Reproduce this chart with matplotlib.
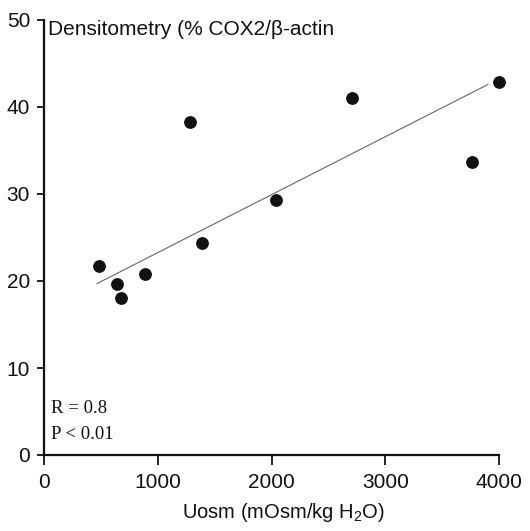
import matplotlib
matplotlib.use("Agg")
import matplotlib.pyplot as plt
import numpy as np

uosm = [484, 642, 677, 888, 1283, 1389, 2040, 2708, 3763, 4000]
cox2 = [21.7, 19.7, 18.0, 20.8, 38.3, 24.4, 29.3, 41.0, 33.7, 42.9]
fit_x = [466, 3903]
slope = 0.00666
intercept = 16.6
xticks = [0, 1000, 2000, 3000, 4000]
yticks = [0, 10, 20, 30, 40, 50]

plt.rcParams['font.family'] = ['Liberation Sans', 'DejaVu Sans']
plt.rcParams['mathtext.fontset'] = 'custom'
plt.rcParams['mathtext.rm'] = 'Liberation Sans'
plt.rcParams['mathtext.it'] = 'Liberation Sans'

fig = plt.figure(figsize=(5.30, 5.31), dpi=100)
ax = fig.add_axes([44/530, (531-455)/531, 455/530, 435/531])

ax.scatter(uosm, cox2, s=85, color='#111111', zorder=3, linewidths=0, clip_on=False)
fx = np.array(fit_x, dtype=float)
ax.plot(fx, slope*fx + intercept, color='#666666', lw=0.8, zorder=2)

ax.set_xlim(0, 4000)
ax.set_ylim(0, 50)
ax.set_xticks(xticks)
ax.set_yticks(yticks)
ax.tick_params(axis='both', labelsize=15, width=1.3, length=5, color='#111111', labelcolor='#111111')
ax.tick_params(axis='x', length=7, pad=6)
ax.tick_params(axis='y', pad=5)
for s in ['top', 'right']:
    ax.spines[s].set_visible(False)
for s in ['left', 'bottom']:
    ax.spines[s].set_linewidth(1.6)
    ax.spines[s].set_color('#111111')

ax.set_xlabel('Uosm (mOsm/kg H$_2$O)', fontsize=14.5, color='#111111')
ax.xaxis.set_label_coords(0.525, -0.105)

ax.text(0.008, 1.0, 'Densitometry (% COX2/β-actin', transform=ax.transAxes,
        fontsize=15, va='top', ha='left', color='#111111')

ax.text(0.015, 0.106, 'R = 0.8', transform=ax.transAxes, fontsize=13.5,
        family='Liberation Serif', va='center', color='#111111')
ax.text(0.015, 0.046, 'P < 0.01', transform=ax.transAxes, fontsize=13.5,
        family='Liberation Serif', va='center', color='#111111')

fig.savefig('out.png', dpi=100)
